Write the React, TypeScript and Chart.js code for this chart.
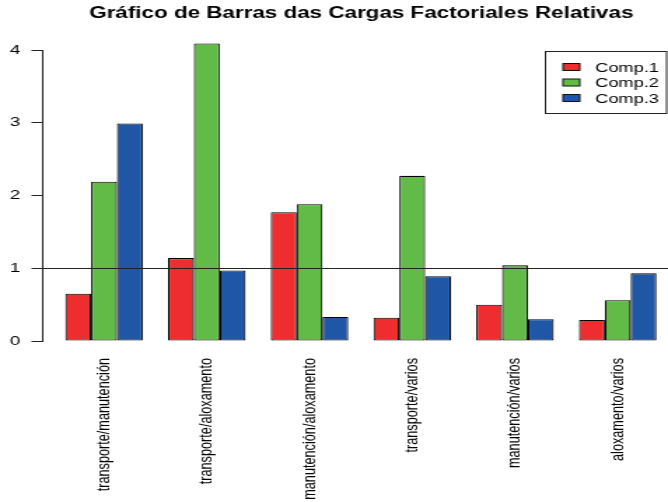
import React, { useEffect, useRef } from "react";
import { Chart, registerables } from "chart.js";

Chart.register(...registerables);

const TITLE = "Gráfico de Barras das Cargas Factoriales Relativas";
const categories = [
  "transporte/manutención",
  "transporte/aloxamento",
  "manutención/aloxamento",
  "transporte/varios",
  "manutención/varios",
  "aloxamento/varios",
];
const seriesNames = ["Comp.1", "Comp.2", "Comp.3"];
const comp1 = [0.65, 1.14, 1.77, 0.32, 0.5, 0.29];
const comp2 = [2.19, 4.09, 1.88, 2.27, 1.04, 0.56];
const comp3 = [2.99, 0.97, 0.33, 0.89, 0.3, 0.93];
const yTicks = [0, 1, 2, 3, 4];
const referenceLine = 1;
const colors = ["#EE2D2F", "#62BB47", "#1F56A6"];

// The reference image is horizontally stretched; draw on a narrower canvas and stretch it.
const W = 477;
const H = 502;
const SX = 668 / W;
const FONT = '"Liberation Sans", Arial, Helvetica, sans-serif';

const decor = {
  id: "decor",
  afterDatasetsDraw(chart: any) {
    const { ctx, chartArea, scales } = chart;
    const y = Math.round(scales.y.getPixelForValue(referenceLine)) + 0.5;
    ctx.save();
    ctx.strokeStyle = "#222";
    ctx.lineWidth = 1;
    ctx.beginPath();
    ctx.moveTo(chartArea.left, y);
    ctx.lineTo(chartArea.right, y);
    ctx.stroke();
    ctx.restore();
  },
  afterDraw(chart: any) {
    const { ctx } = chart;
    ctx.save();
    // title
    ctx.fillStyle = "#000";
    ctx.font = `bold 16px ${FONT}`;
    ctx.textAlign = "center";
    ctx.textBaseline = "middle";
    ctx.fillText(TITLE, 258, 14);
    // legend box
    const left = 389.5;
    const top = 51.5;
    const right = 476;
    const bottom = 113.5;
    ctx.strokeStyle = "#222";
    ctx.lineWidth = 1;
    ctx.strokeRect(left, top, right - left, bottom - top);
    const rows = [67, 82.5, 98];
    ctx.font = `13px ${FONT}`;
    ctx.textAlign = "left";
    chart.data.datasets.forEach((ds: any, i: number) => {
      const cy = rows[i];
      ctx.fillStyle = ds.backgroundColor;
      ctx.fillRect(402, cy - 3.5, 12, 7);
      ctx.strokeStyle = "#111";
      ctx.strokeRect(402, cy - 3.5, 12, 7);
      ctx.fillStyle = "#000";
      ctx.fillText(ds.label, 425, cy + 1);
    });
    ctx.restore();
  },
};

export default function App() {
  const ref = useRef<HTMLCanvasElement | null>(null);

  useEffect(() => {
    if (!ref.current) return;
    const series = [comp1, comp2, comp3];
    const chart = new Chart(ref.current, {
      type: "bar",
      data: {
        datasets: series.map((vals, i) => ({
          label: seriesNames[i],
          data: vals.map((v, j) => ({ x: j + 1, y: v })),
          backgroundColor: colors[i],
          borderColor: "#000",
          borderWidth: 1.1,
          borderSkipped: false,
          categoryPercentage: 0.754,
          barPercentage: 1,
          clip: false,
        })),
      },
      options: {
        animation: false,
        responsive: false,
        devicePixelRatio: 1,
        events: [],
        layout: { padding: { top: 50, left: 0, right: 0, bottom: 0 } },
        plugins: {
          legend: { display: false },
          title: { display: false },
          tooltip: { enabled: false },
        },
        scales: {
          x: {
            type: "linear",
            offset: false,
            min: 0.403,
            max: 0.403 + (W - 30.5) / 73.36,
            grid: { display: false, drawTicks: false, offset: false },
            border: { display: false },
            afterBuildTicks: (scale: any) => {
              scale.ticks = categories.map((_, i) => ({ value: i + 1 }));
            },
            afterFit: (scale: any) => {
              scale.height = H - 341;
            },
            ticks: {
              autoSkip: false,
              minRotation: 90,
              maxRotation: 90,
              padding: 17,
              color: "#000",
              font: { family: FONT, size: 12.7 },
              callback: (value: any) => categories[Math.round(value) - 1] ?? "",
            },
          },
          y: {
            min: yTicks[0],
            max: yTicks[yTicks.length - 1],
            afterBuildTicks: (scale: any) => {
              scale.ticks = yTicks.map((v) => ({ value: v }));
            },
            afterFit: (scale: any) => {
              scale.width = 30.5;
            },
            grid: {
              drawOnChartArea: false,
              drawTicks: true,
              tickLength: 8,
              color: "#222",
              lineWidth: 1,
            },
            border: { display: true, color: "#222", width: 1 },
            ticks: {
              padding: 8,
              color: "#000",
              font: { family: FONT, size: 13.5 },
            },
          },
        },
      },
      plugins: [decor],
    } as any);
    return () => chart.destroy();
  }, []);

  return (
    <div
      style={{
        position: "fixed",
        left: 0,
        top: 0,
        width: 668,
        height: H,
        overflow: "hidden",
        background: "#fff",
      }}
    >
      <canvas
        ref={ref}
        width={W}
        height={H}
        style={{
          display: "block",
          transform: `scaleX(${SX})`,
          transformOrigin: "0 0",
        }}
      />
    </div>
  );
}
